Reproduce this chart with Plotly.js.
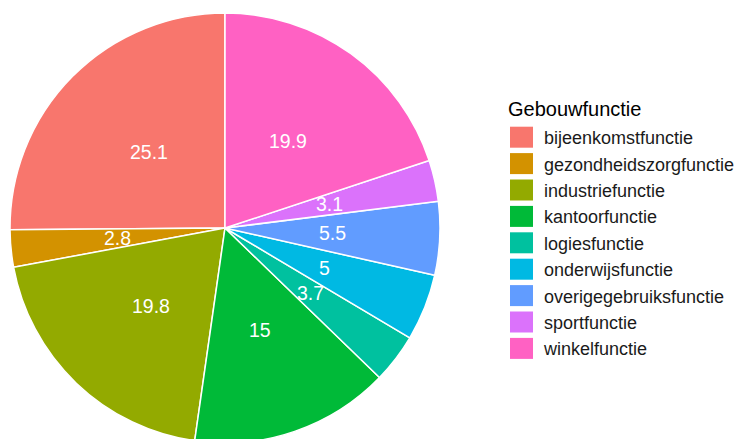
<!DOCTYPE html>
<html>
<head>
<meta charset="utf-8">
<script src="https://cdn.plot.ly/plotly-3.0.1.min.js"></script>
<style>
html,body{margin:0;padding:0;overflow:hidden;background:#fff;}
#chart{width:740px;height:450px;}
</style>
</head>
<body>
<div id="chart"></div>
<script>
// Data
var categories = ["bijeenkomstfunctie","gezondheidszorgfunctie","industriefunctie","kantoorfunctie","logiesfunctie","onderwijsfunctie","overigegebruiksfunctie","sportfunctie","winkelfunctie"];
var values = [25.1, 2.8, 19.8, 15, 3.7, 5, 5.5, 3.1, 19.9];
var labels = ["25.1","2.8","19.8","15","3.7","5","5.5","3.1","19.9"];
var colors = ["#F8766D","#D39200","#93AA00","#00BA38","#00C19F","#00B9E3","#619CFF","#DB72FB","#FF61C3"];

var W = 740, H = 450;
var px0 = 10, px1 = 440, pyTop = 13, pyBot = 443;
var dom = {x:[px0/W, px1/W], y:[1-pyBot/H, 1-pyTop/H]};
var cx = (px0+px1)/2, cy = (pyTop+pyBot)/2, R = (px1-px0)/2;

var total = values.reduce(function(a,b){return a+b;},0);
var annotations = [];
var cum = 0;
for (var i=0;i<values.length;i++){
  var f = (cum + values[i]/2)/total;
  cum += values[i];
  var th = (90 + 360*f) * Math.PI/180;
  var x = cx + 0.5*R*Math.cos(th);
  var y = cy - 0.5*R*Math.sin(th);
  annotations.push({
    xref:'paper', yref:'paper', x:x/W, y:1-y/H, text:labels[i], showarrow:false,
    xanchor:'center', yanchor:'middle',
    font:{family:'Liberation Sans, Arial, sans-serif', size:19.5, color:'#ffffff'}
  });
}

var trace = {
  type:'pie', labels:categories, values:values, sort:false, direction:'counterclockwise',
  rotation: -360*values[0]/total,
  marker:{colors:colors, line:{color:'#ffffff', width:1.5}},
  textinfo:'none', hoverinfo:'label+value', domain:dom
};

var layout = {
  width:W, height:H, margin:{l:0,r:0,t:0,b:0,autoexpand:false}, paper_bgcolor:'#ffffff',
  showlegend:true,
  legend:{x:497/W, y:1-93/H, xanchor:'left', yanchor:'top', traceorder:'normal',
    title:{text:'Gebouwfunctie', font:{family:'Liberation Sans, Arial, sans-serif', size:20, color:'#000000'}},
    font:{family:'Liberation Sans, Arial, sans-serif', size:18, color:'#1a1a1a'},
    itemwidth:39, bgcolor:'rgba(0,0,0,0)'},
  annotations:annotations,
  font:{family:'Liberation Sans, Arial, sans-serif'}
};

Plotly.newPlot('chart',[trace],layout,{displayModeBar:false,staticPlot:true}).then(function(gd){
  var paths = gd.querySelectorAll('.legend .legendpoints path');
  paths.forEach(function(p){ p.setAttribute('d','M11.5,10.5H-11.5V-10.5H11.5Z'); p.style.strokeWidth='0'; });
  var texts = gd.querySelectorAll('.legend .legendtext');
  texts.forEach(function(t){ t.setAttribute('transform','translate(-2,0)'); });
  var t = gd.querySelector('.legend .legendtitletext');
  if (t) t.setAttribute('transform','translate(9,-3)');
});
</script>
</body>
</html>
